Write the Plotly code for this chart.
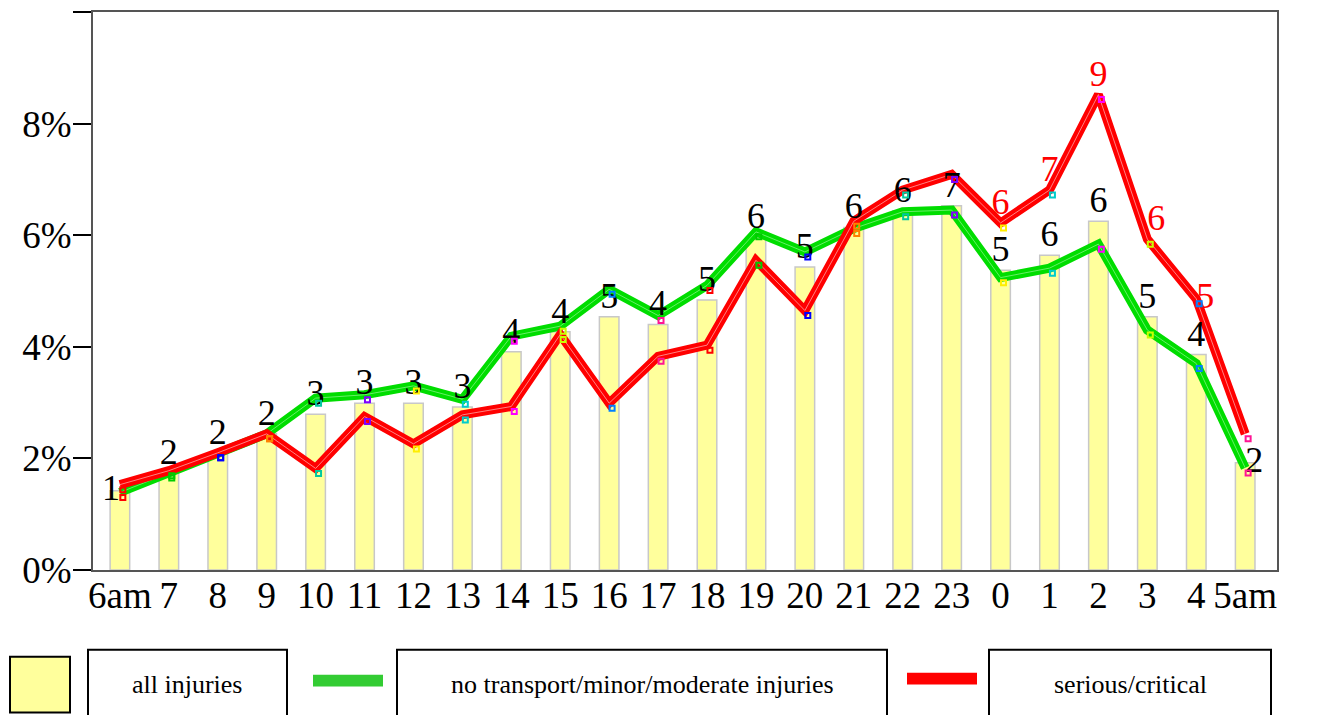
import plotly.graph_objects as go

HOURS = ['6am', '7', '8', '9', '10', '11', '12', '13', '14', '15', '16', '17',
         '18', '19', '20', '21', '22', '23', '0', '1', '2', '3', '4', '5am']

# percent of injuries per hour of day
ALL_INJURIES = [1.42, 1.74, 2.10, 2.44, 2.79, 2.99, 2.99, 2.92, 3.91, 4.27, 4.54, 4.40,
                4.84, 5.96, 5.43, 6.14, 6.44, 6.53, 5.37, 5.64, 6.25, 4.54, 3.86, 1.92]
MINOR = [1.39, 1.74, 2.10, 2.44, 3.08, 3.14, 3.30, 3.06, 4.19, 4.37, 5.03, 4.56,
         5.10, 6.06, 5.70, 6.12, 6.42, 6.45, 5.24, 5.41, 5.84, 4.30, 3.70, 1.83]
SERIOUS = [1.53, 1.78, 2.10, 2.44, 1.82, 2.75, 2.26, 2.78, 2.93, 4.22, 2.99, 3.83,
           4.03, 5.55, 4.65, 6.25, 6.81, 7.09, 6.22, 6.81, 8.52, 5.93, 4.86, 2.44]

ALL_LABELS = ['1', '2', '2', '2', '3', '3', '3', '3', '4', '4', '5', '4',
              '5', '6', '5', '6', '6', '7', '5', '6', '6', '5', '4', '2']
SERIOUS_LABEL_HOURS = ['0', '1', '2', '3', '4']
SERIOUS_LABELS = ['6', '7', '9', '6', '5']

Y_TICKS = [0, 2, 4, 6, 8, 10]
Y_TICK_TEXT = ['0%', '2%', '4%', '6%', '8%', '']

POINT_COLORS = ['#ff0000', '#00cc00', '#0000ff', '#ff8000', '#00c8a0', '#8000ff',
                '#ffee00', '#00cccc', '#ff00ff', '#c8ff00', '#0080ff', '#ff1493'] * 2

FONT = 'Liberation Serif, Times New Roman, serif'

# the page body has an 8px margin, so the figure is drawn 8px smaller
OFF = 8
W, H = 1317 - OFF, 715 - OFF
L, R, T, B = 85, 40, 2, 145
PW, PH = W - L - R, H - T - B


def px(x):
    return (x - OFF - L) / PW


def py(y):
    return (H - B - (y - OFF)) / PH


fig = go.Figure()

fig.add_trace(go.Bar(
    x=HOURS, y=ALL_INJURIES, width=0.4,
    marker=dict(color='#ffff9c', line=dict(color='#c8c8c8', width=1.5)),
))

for vals, color, stripe in [(MINOR, '#00dd00', '#66ee66'),
                            (SERIOUS, '#ff0000', '#ff8080')]:
    fig.add_trace(go.Scatter(x=HOURS, y=vals, mode='lines',
                             line=dict(color=color, width=9)))
    fig.add_trace(go.Scatter(x=HOURS, y=vals, mode='lines',
                             line=dict(color=stripe, width=1)))

# little point markers, drawn slightly offset like in the source
for vals in (MINOR, SERIOUS):
    fig.add_trace(go.Scatter(
        x=HOURS, y=vals, mode='markers', xaxis='x2', yaxis='y2',
        marker=dict(symbol='square-open', size=5, color=POINT_COLORS,
                    line=dict(width=2, color=POINT_COLORS)),
    ))

positions = ['middle left'] + ['top center'] * 22 + ['middle right']
fig.add_trace(go.Scatter(
    x=HOURS, y=ALL_INJURIES, mode='text', text=ALL_LABELS,
    textposition=positions, cliponaxis=False,
    textfont=dict(family=FONT, size=36, color='black'),
))

red_idx = [HOURS.index(h) for h in SERIOUS_LABEL_HOURS]
fig.add_trace(go.Scatter(
    x=SERIOUS_LABEL_HOURS, y=[SERIOUS[i] for i in red_idx], mode='text',
    text=SERIOUS_LABELS, cliponaxis=False,
    textposition=['top center', 'top center', 'top center', 'top right', 'middle right'],
    textfont=dict(family=FONT, size=36, color='#ff0000'),
))

x_range = [-0.55, 23.65]
y_range = [0, 10]
fig.update_layout(
    width=W, height=H,
    margin=dict(l=L, r=R, t=T, b=B),
    plot_bgcolor='white', paper_bgcolor='white',
    showlegend=False,
    font=dict(family=FONT, size=36, color='black'),
    xaxis=dict(type='category', range=x_range, showline=True, linecolor='#555',
               linewidth=2, mirror=True, ticks='', showgrid=False,
               tickfont=dict(size=37), ticklabelstandoff=-8),
    yaxis=dict(range=y_range, tickvals=Y_TICKS, ticktext=Y_TICK_TEXT,
               showline=True, linecolor='#555', linewidth=2, mirror=True,
               ticks='outside', ticklen=18, tickwidth=2, tickcolor='black',
               showgrid=False, zeroline=False, tickfont=dict(size=37),
               ticklabelstandoff=-6),
    xaxis2=dict(type='category', overlaying='x', range=[x_range[0] - 0.06, x_range[1] - 0.06],
                visible=False),
    yaxis2=dict(overlaying='y', range=[y_range[0] + 0.09, y_range[1] + 0.09], visible=False),
)

shapes = [
    dict(type='rect', x0=px(10), x1=px(70), y0=py(657), y1=py(713),
         fillcolor='#ffff9c', line=dict(color='black', width=2)),
    dict(type='rect', x0=px(313), x1=px(383), y0=py(675), y1=py(687),
         fillcolor='#33cc33', line=dict(width=0)),
    dict(type='rect', x0=px(907), x1=px(977), y0=py(673), y1=py(685),
         fillcolor='#ff0000', line=dict(width=0)),
]
for x0, x1 in [(88, 287), (397, 887), (989, 1271)]:
    shapes.append(dict(type='rect', x0=px(x0), x1=px(x1), y0=py(650), y1=py(725),
                       line=dict(color='black', width=2)))
fig.update_layout(shapes=[dict(s, xref='paper', yref='paper') for s in shapes])

for text, cx in [('all injuries', 187), ('no transport/minor/moderate injuries', 642),
                 ('serious/critical', 1130)]:
    fig.add_annotation(x=px(cx), y=py(685), xref='paper', yref='paper', text=text,
                       xanchor='center', yanchor='middle', showarrow=False,
                       font=dict(family=FONT, size=26, color='black'))

fig.write_html("out.html")
